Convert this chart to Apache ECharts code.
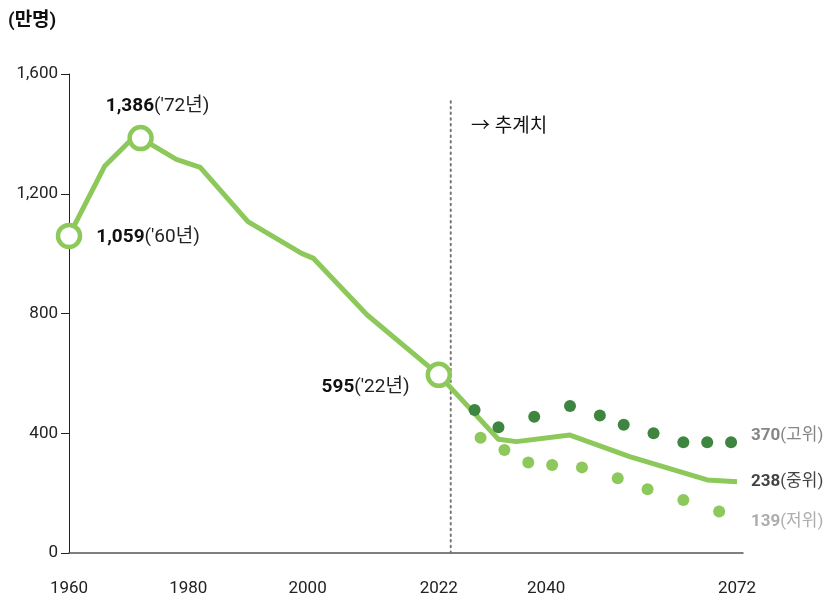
<!DOCTYPE html>
<html><head><meta charset="utf-8">
<script src="https://cdn.jsdelivr.net/npm/echarts@6/dist/echarts.min.js"></script>
<style>html,body{margin:0;padding:0;background:#fff}#c{width:826px;height:601px}</style>
</head><body><div id="c"></div>
<script>
// Data (population, 만명)
const mainYears  = [1960, 1966, 1970, 1972, 1978, 1982, 1990, 1999, 2001, 2010, 2022, 2032, 2035, 2044, 2054, 2067, 2072];
const mainValues = [1059, 1293, 1372, 1386, 1315, 1288, 1107, 1001, 984, 795, 595, 380, 372, 394, 322, 244, 238];
const highYears  = [2028, 2032, 2038, 2044, 2049, 2053, 2058, 2063, 2067, 2071];
const highValues = [478, 420, 455, 491, 459, 428, 400, 370, 370, 370];
const lowYears   = [2029, 2033, 2037, 2041, 2046, 2052, 2057, 2063, 2069];
const lowValues  = [385, 344, 302, 294, 286, 250, 213, 177, 139];
const keyYears   = [1960, 1972, 2022];
const keyValues  = [1059, 1386, 595];
const keyLabels  = ["('60년)", "('72년)", "('22년)"];
const endValues  = [370, 238, 139];
const endNames   = ["(고위)", "(중위)", "(저위)"];
const xTicks     = [1960, 1980, 2000, 2022, 2040, 2072];
const projStart  = 2024;

const FONT = "Roboto, 'Noto Sans CJK KR', sans-serif";
const GREEN = '#8cc85a';
const DARK = '#3e8540';
const fmt = v => v.toLocaleString('en-US');
const pair = (xs, ys) => xs.map((x, i) => [x, ys[i]]);

const keyLabelCfg = [
  {position: 'right', distance: 14, offset: [0, 1]},
  {position: 'top', distance: 9, offset: [17, 0]},
  {position: 'left', distance: 16, offset: [0, 12]}
];
const endStyle = [
  {num: '#666', txt: '#666', off: [0, -6]},
  {num: '#111', txt: '#111', off: [0, 0]},
  {num: '#999', txt: '#999', off: [0, 10]}
];

const chart = echarts.init(document.getElementById('c'));
chart.setOption({
  animation: false,
  textStyle: {fontFamily: FONT},
  grid: {left: 69, right: 83, top: 74, bottom: 48, containLabel: false},
  graphic: [
    {type: 'text', left: 8, top: 12, style: {text: '(만명)', font: "bold 19px " + FONT, fill: '#111'}},
    {type: 'text', left: 471, top: 118, style: {text: '→ 추계치', font: "19px " + FONT, fill: '#111'}}
  ],
  xAxis: {
    type: 'value', min: 1960, max: 2073,
    axisLine: {show: true, lineStyle: {color: '#555', width: 1.5}},
    axisTick: {show: false},
    splitLine: {show: false},
    axisLabel: {customValues: xTicks, margin: 27, fontSize: 17, color: '#222', fontFamily: FONT,
      formatter: v => String(v)}
  },
  yAxis: {
    type: 'value', min: 0, max: 1600, interval: 400,
    axisLine: {show: true, lineStyle: {color: '#222', width: 1}},
    axisTick: {show: true, length: 8, lineStyle: {color: '#222'}},
    splitLine: {show: false},
    axisLabel: {margin: 11, fontSize: 17, color: '#222', fontFamily: FONT, formatter: v => fmt(v)}
  },
  series: [
    {
      type: 'line', data: [[projStart, 0], [projStart, 1520]], symbol: 'none', silent: true,
      lineStyle: {color: '#777', width: 2, type: [1.5, 4.2], cap: 'round'}, z: 1
    },
    {
      type: 'line', data: pair(mainYears, mainValues), symbol: 'none',
      lineStyle: {color: GREEN, width: 5, join: 'round'}, z: 3
    },
    {
      type: 'scatter', data: pair(highYears, highValues), symbolSize: 12,
      itemStyle: {color: DARK, opacity: 1}, z: 4
    },
    {
      type: 'scatter', data: pair(lowYears, lowValues), symbolSize: 12,
      itemStyle: {color: GREEN, opacity: 1}, z: 4
    },
    {
      type: 'scatter', z: 5, symbolSize: 22,
      itemStyle: {color: '#fff', borderColor: GREEN, borderWidth: 4.5, opacity: 1},
      data: keyYears.map((y, i) => ({
        value: [y, keyValues[i]],
        label: Object.assign({show: true,
          formatter: '{b|' + fmt(keyValues[i]) + '}{n|' + keyLabels[i] + '}',
          rich: {b: {fontSize: 19, fontWeight: 'bold', color: '#111', fontFamily: FONT},
                 n: {fontSize: 19, color: '#222', fontFamily: FONT}}}, keyLabelCfg[i])
      }))
    },
    {
      type: 'scatter', z: 5, symbolSize: 0, silent: true,
      data: endValues.map((v, i) => ({
        value: [2072, v],
        label: {show: true, position: 'right', distance: 14, offset: endStyle[i].off,
          formatter: '{b|' + v + '}{n|' + endNames[i] + '}',
          rich: {b: {fontSize: 17, fontWeight: 'bold', color: endStyle[i].num, fontFamily: FONT},
                 n: {fontSize: 17, color: endStyle[i].txt, fontFamily: FONT}}}
      }))
    }
  ]
});
</script></body></html>
